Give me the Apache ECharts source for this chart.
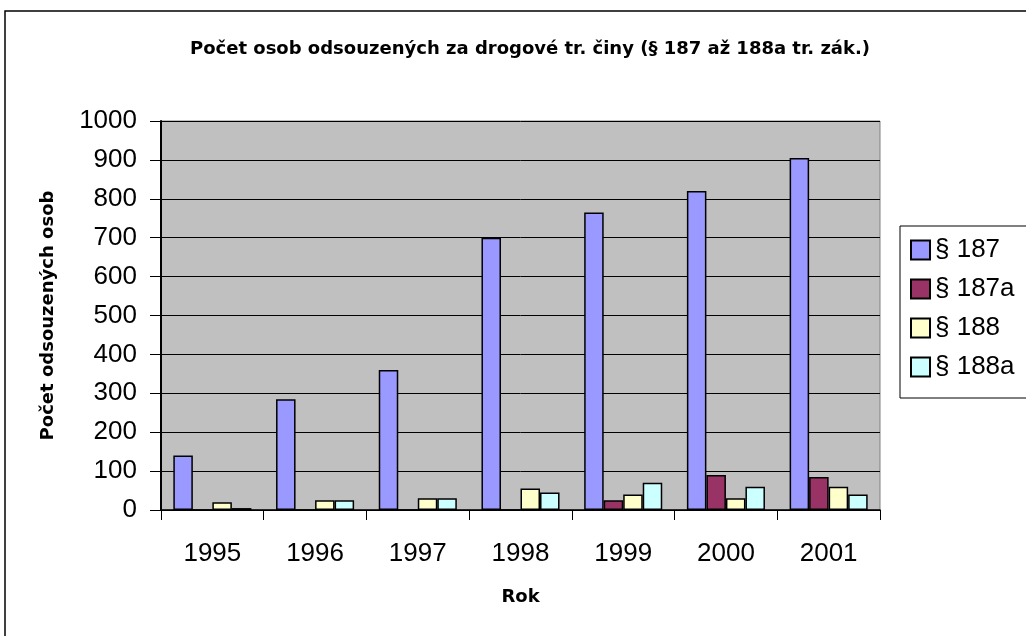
<!DOCTYPE html>
<html lang="cs">
<head>
    <meta charset="utf-8">
    <title>Počet osob odsouzených za drogové tr. činy</title>
    <script src="https://cdn.jsdelivr.net/npm/echarts@6/dist/echarts.min.js"></script>
    <style>
        html, body { margin: 0; padding: 0; background: #fff; }
        #main { width: 1026px; height: 636px; }
    </style>
</head>
<body>
<div id="main"></div>
<script>
    // data
    var years = ['1995', '1996', '1997', '1998', '1999', '2000', '2001'];
    var s187  = [140, 285, 360, 700, 765, 820, 905];
    var s187a = [0, 0, 0, 0, 25, 90, 85];
    var s188  = [20, 25, 30, 55, 40, 30, 60];
    var s188a = [5, 25, 30, 45, 70, 60, 40];

    var FONT = 'Arial, "Liberation Sans", sans-serif';
    // the bold captions in the picture are set quite wide
    var WIDE = '"DejaVu Sans", sans-serif';

    function bar(name, data, color) {
        return {
            name: name,
            type: 'bar',
            data: data,
            barGap: '0%',
            barCategoryGap: '24%',
            itemStyle: { color: color, borderColor: '#000', borderWidth: 1.5 }
        };
    }

    var myChart = echarts.init(document.getElementById('main'));
    var option = {
        backgroundColor: '#fff',
        animation: false,
        textStyle: { fontFamily: FONT },
        title: {
            text: 'Počet osob odsouzených za drogové tr. činy (§ 187 až 188a tr. zák.)',
            left: 525,
            textAlign: 'center',
            top: 35,
            textStyle: { fontSize: 18, fontWeight: 'bold', color: '#000', fontFamily: WIDE }
        },
        graphic: [{
            type: 'rect',
            shape: { x: 5, y: 11, width: 1100, height: 700 },
            style: { fill: null, stroke: '#000', lineWidth: 1.5 },
            silent: true
        }],
        legend: {
            orient: 'vertical',
            left: 900,
            top: 226,
            padding: [11, 60, 18, 10],
            itemGap: 13,
            itemWidth: 19,
            itemHeight: 19,
            borderColor: '#000',
            borderWidth: 1,
            icon: 'rect',
            textStyle: { fontSize: 26, color: '#000', fontFamily: FONT }
        },
        grid: {
            left: 161,
            top: 121,
            right: 146,
            bottom: 126,
            show: true,
            backgroundColor: '#c0c0c0',
            borderColor: '#808080',
            borderWidth: 1
        },
        xAxis: {
            type: 'category',
            data: years,
            name: 'Rok',
            nameLocation: 'middle',
            nameGap: 78,
            nameTextStyle: { fontSize: 18, fontWeight: 'bold', color: '#000', fontFamily: WIDE },
            axisLine: { lineStyle: { color: '#000', width: 1.5 } },
            axisTick: { show: true, length: 10, lineStyle: { color: '#000' } },
            axisLabel: { fontSize: 26, color: '#000', margin: 31 }
        },
        yAxis: {
            type: 'value',
            min: 0,
            max: 1000,
            interval: 100,
            name: 'Počet odsouzených osob',
            nameLocation: 'middle',
            nameGap: 104,
            nameTextStyle: { fontSize: 18, fontWeight: 'bold', color: '#000', fontFamily: WIDE },
            axisLine: { show: true, lineStyle: { color: '#000', width: 2 } },
            axisTick: { show: true, length: 11, lineStyle: { color: '#000' } },
            axisLabel: { fontSize: 26, color: '#000', margin: 24, formatter: function (v) { return String(v); } },
            splitLine: { lineStyle: { color: '#000', width: 1 } }
        },
        series: [
            bar('§ 187', s187, '#9999ff'),
            bar('§ 187a', s187a, '#993366'),
            bar('§ 188', s188, '#ffffcc'),
            bar('§ 188a', s188a, '#ccffff')
        ]
    };
    myChart.setOption(option);
</script>
</body>
</html>
